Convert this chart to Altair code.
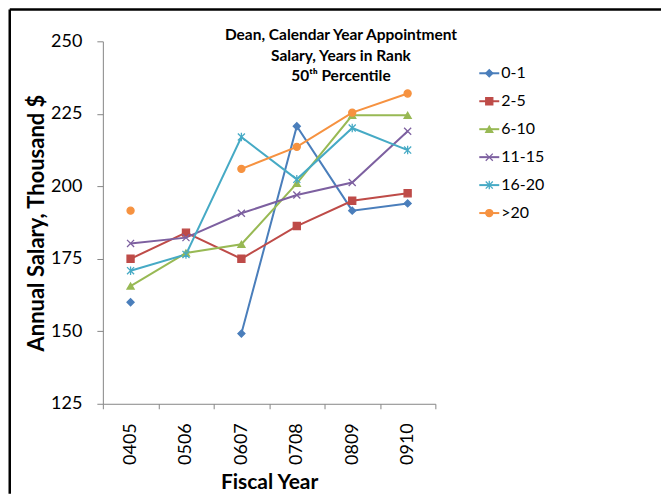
import altair as alt
import pandas as pd

years = ["0405", "0506", "0607", "0708", "0809", "0910"]
series = ["0-1", "2-5", "6-10", "11-15", "16-20", ">20"]
v_0_1 = [160.0, None, 149.2, 220.7, 191.6, 194.1]
v_2_5 = [175.0, 184.0, 175.0, 186.3, 195.0, 197.6]
v_6_10 = [165.6, 177.0, 180.0, 201.0, 224.5, 224.5]
v_11_15 = [180.3, 182.3, 190.7, 197.0, 201.3, 219.0]
v_16_20 = [170.9, 176.5, 217.0, 202.4, 220.1, 212.5]
v_gt20 = [191.6, None, 206.0, 213.6, 225.4, 232.0]
colors = ["#4A7EBB", "#BE4B48", "#98B954", "#7D60A0", "#46AAC5", "#F69240"]
shapes = ["diamond", "square", "triangle-up",
          "M-1,-1L1,1M-1,1L1,-1",
          "M-1,-1L1,1M-1,1L1,-1M0,-1.2L0,1.2",
          "circle"]
title_lines = "Dean, Calendar Year Appointment\nSalary, Years in Rank\n50ᵗʰ Percentile"

all_vals = [v_0_1, v_2_5, v_6_10, v_11_15, v_16_20, v_gt20]
rows = []
for s, vals in zip(series, all_vals):
    for y, v in zip(years, vals):
        rows.append({"year": y, "series": s, "value": v})
df = pd.DataFrame(rows)

FONT = "Lato"
color_enc = alt.Color("series:N", scale=alt.Scale(domain=series, range=colors), legend=None)
stroke_enc = alt.Stroke("series:N", scale=alt.Scale(domain=series, range=colors), legend=None)
shape_enc = alt.Shape("series:N", scale=alt.Scale(domain=series, range=shapes), legend=None)

x_enc = alt.X("year:O", sort=years,
              scale=alt.Scale(type="band", paddingInner=0, paddingOuter=0),
              axis=alt.Axis(title="Fiscal Year", labelAngle=-90, tickBand="extent",
                            tickSize=5, labelPadding=14, titlePadding=7,
                            labelFontSize=18, titleFontSize=21, titleFontWeight="bold"))
y_enc = alt.Y("value:Q", scale=alt.Scale(domain=[125, 250], nice=False, zero=False),
              axis=alt.Axis(title="Annual Salary, Thousand $", values=[125, 150, 175, 200, 225, 250],
                            tickSize=6, labelPadding=15, titlePadding=2, grid=False,
                            labelFontSize=18, titleFontSize=22, titleFontWeight="bold"))

lines = alt.Chart(df).mark_line(strokeWidth=2).encode(
    x=x_enc, y=y_enc, color=color_enc, detail="series:N")
points = alt.Chart(df).transform_filter("isValid(datum.value)").mark_point(
    filled=True, size=50, strokeWidth=1.3, opacity=1).encode(
    x=x_enc, y=y_enc, color=color_enc, stroke=stroke_enc, shape=shape_enc)
main = alt.layer(lines, points)

leg_df = pd.DataFrame({"series": series})
leg_y = alt.Y("series:N", sort=series,
              scale=alt.Scale(type="point", domain=series, range=[32, 172], padding=0),
              axis=None)
leg_rule = alt.Chart(leg_df).mark_rule(strokeWidth=2).encode(
    x=alt.value(377), x2=alt.value(397), y=leg_y, color=color_enc)
leg_pts = alt.Chart(leg_df).mark_point(filled=True, size=50, strokeWidth=1.3, opacity=1).encode(
    x=alt.value(387), y=leg_y, color=color_enc, stroke=stroke_enc, shape=shape_enc)
leg_txt = alt.Chart(leg_df).mark_text(align="left", baseline="middle", fontSize=16,
                                      font=FONT, color="black").encode(
    x=alt.value(399), y=leg_y, text="series:N")
legend = alt.layer(leg_rule, leg_pts, leg_txt)

one = pd.DataFrame({"k": [0]})
frame_left = alt.Chart(one).mark_rule(color="black", strokeWidth=2.5).encode(
    x=alt.value(-93.25), y=alt.value(-31.75), y2=alt.value(453))
frame_top = alt.Chart(one).mark_rule(color="black", strokeWidth=2.5).encode(
    x=alt.value(-93.25), x2=alt.value(559), y=alt.value(-31.75))
title = alt.Chart(one).mark_text(align="center", baseline="top", fontSize=15.5,
                                 fontWeight="bold", font=FONT, lineBreak="\n",
                                 lineHeight=20.5, color="black").encode(
    x=alt.value(238.5), y=alt.value(-13), text=alt.value(title_lines))

chart = alt.layer(main, legend, frame_left, frame_top, title).resolve_scale(
    y="independent"
).properties(
    width=333, height=363, padding=0
).configure_view(stroke=None).configure_axis(
    domainColor="#868686", tickColor="#868686", labelColor="black", titleColor="black",
    labelFont=FONT, titleFont=FONT, domainWidth=1, tickWidth=1
)

chart.save("out.html", embed_options={"renderer": "svg", "actions": False})
